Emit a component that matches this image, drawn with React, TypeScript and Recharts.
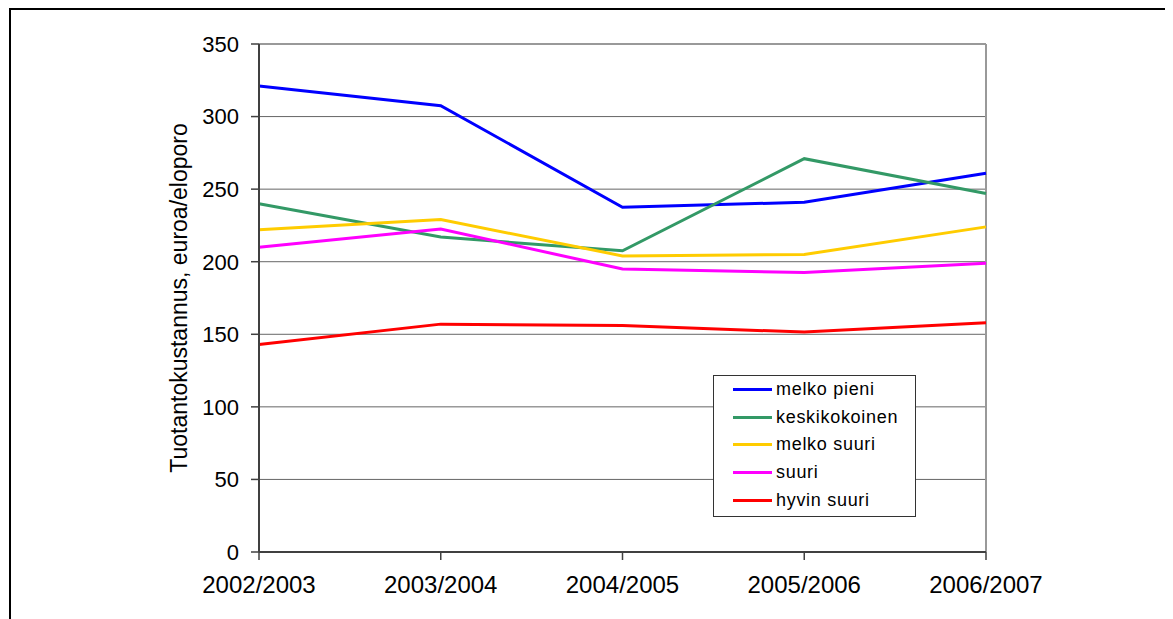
import React from "react";
import {
  CartesianGrid,
  Legend,
  Line,
  LineChart,
  ReferenceLine,
  XAxis,
  YAxis,
} from "recharts";

const years = ["2002/2003", "2003/2004", "2004/2005", "2005/2006", "2006/2007"];
const melkoPieni = [321, 307.5, 237.5, 241, 261];
const keskikokoinen = [240, 217, 207.5, 271, 247];
const melkoSuuri = [222, 229, 204, 205, 224];
const suuri = [210, 222.5, 195, 192.5, 199];
const hyvinSuuri = [143, 157, 156, 151.5, 158];
const yTicks = [0, 50, 100, 150, 200, 250, 300, 350];

const SERIES = [
  { key: "mp", name: "melko pieni", color: "#0000FF" },
  { key: "kk", name: "keskikokoinen", color: "#339966" },
  { key: "ms", name: "melko suuri", color: "#FFCC00" },
  { key: "su", name: "suuri", color: "#FF00FF" },
  { key: "hs", name: "hyvin suuri", color: "#FF0000" },
];

const data = years.map((year, i) => ({
  year,
  mp: melkoPieni[i],
  kk: keskikokoinen[i],
  ms: melkoSuuri[i],
  su: suuri[i],
  hs: hyvinSuuri[i],
}));

const FONT = "'Liberation Sans', Arial, sans-serif";

const LegendBox = () => (
  <div
    style={{
      width: 201,
      height: 140,
      border: "1px solid #333",
      background: "#fff",
      fontFamily: FONT,
      fontSize: 18,
      color: "#000",
    }}
  >
    {SERIES.map((s) => (
      <div key={s.key} style={{ display: "flex", alignItems: "center", height: 27.6 }}>
        <div style={{ width: 39, height: 3, background: s.color, marginLeft: 19 }} />
        <span style={{ marginLeft: 4, letterSpacing: 0.7 }}>{s.name}</span>
      </div>
    ))}
  </div>
);

const App = () => {
  return (
    <div style={{ position: "relative", width: 1165, height: 611 }}>
      <div
        style={{
          position: "absolute",
          left: 1,
          top: 0,
          width: 1170,
          height: 620,
          borderTop: "2px solid #000",
          borderLeft: "2px solid #000",
          pointerEvents: "none",
        }}
      />
      <LineChart
        width={1165}
        height={611}
        data={data}
        margin={{ top: 36, right: 187, bottom: 0, left: 0 }}
        style={{ fontFamily: FONT }}
      >
        <CartesianGrid vertical={false} stroke="#666" strokeWidth={1} />
        <XAxis
          dataKey="year"
          height={67}
          interval={0}
          tickSize={8}
          tickMargin={16}
          axisLine={{ stroke: "#404040", strokeWidth: 2 }}
          tickLine={{ stroke: "#404040", strokeWidth: 1.5 }}
          tick={{ fill: "#000", fontSize: 24, fontFamily: FONT }}
        />
        <YAxis
          width={251}
          domain={[0, 350]}
          ticks={yTicks}
          interval={0}
          tickSize={8}
          tickMargin={12}
          axisLine={{ stroke: "#404040", strokeWidth: 2 }}
          tickLine={{ stroke: "#404040", strokeWidth: 1.5 }}
          tick={{ fill: "#000", fontSize: 22, fontFamily: FONT }}
          label={{
            value: "Tuotantokustannus, euroa/eloporo",
            angle: -90,
            position: "center",
            dx: 45,
            fontSize: 23,
            fill: "#000",
            fontFamily: FONT,
          }}
        />
        <ReferenceLine y={350} stroke="#999" strokeWidth={2} />
        <ReferenceLine x="2006/2007" stroke="#999" strokeWidth={2} />
        {SERIES.map((s) => (
          <Line
            key={s.key}
            type="linear"
            dataKey={s.key}
            name={s.name}
            stroke={s.color}
            strokeWidth={3}
            dot={false}
            isAnimationActive={false}
          />
        ))}
        <Legend
          layout="vertical"
          align="center"
          verticalAlign="middle"
          content={() => <LegendBox />}
          wrapperStyle={{ position: "absolute", left: 705, top: 367, width: 203 }}
        />
      </LineChart>
    </div>
  );
};

export default App;
